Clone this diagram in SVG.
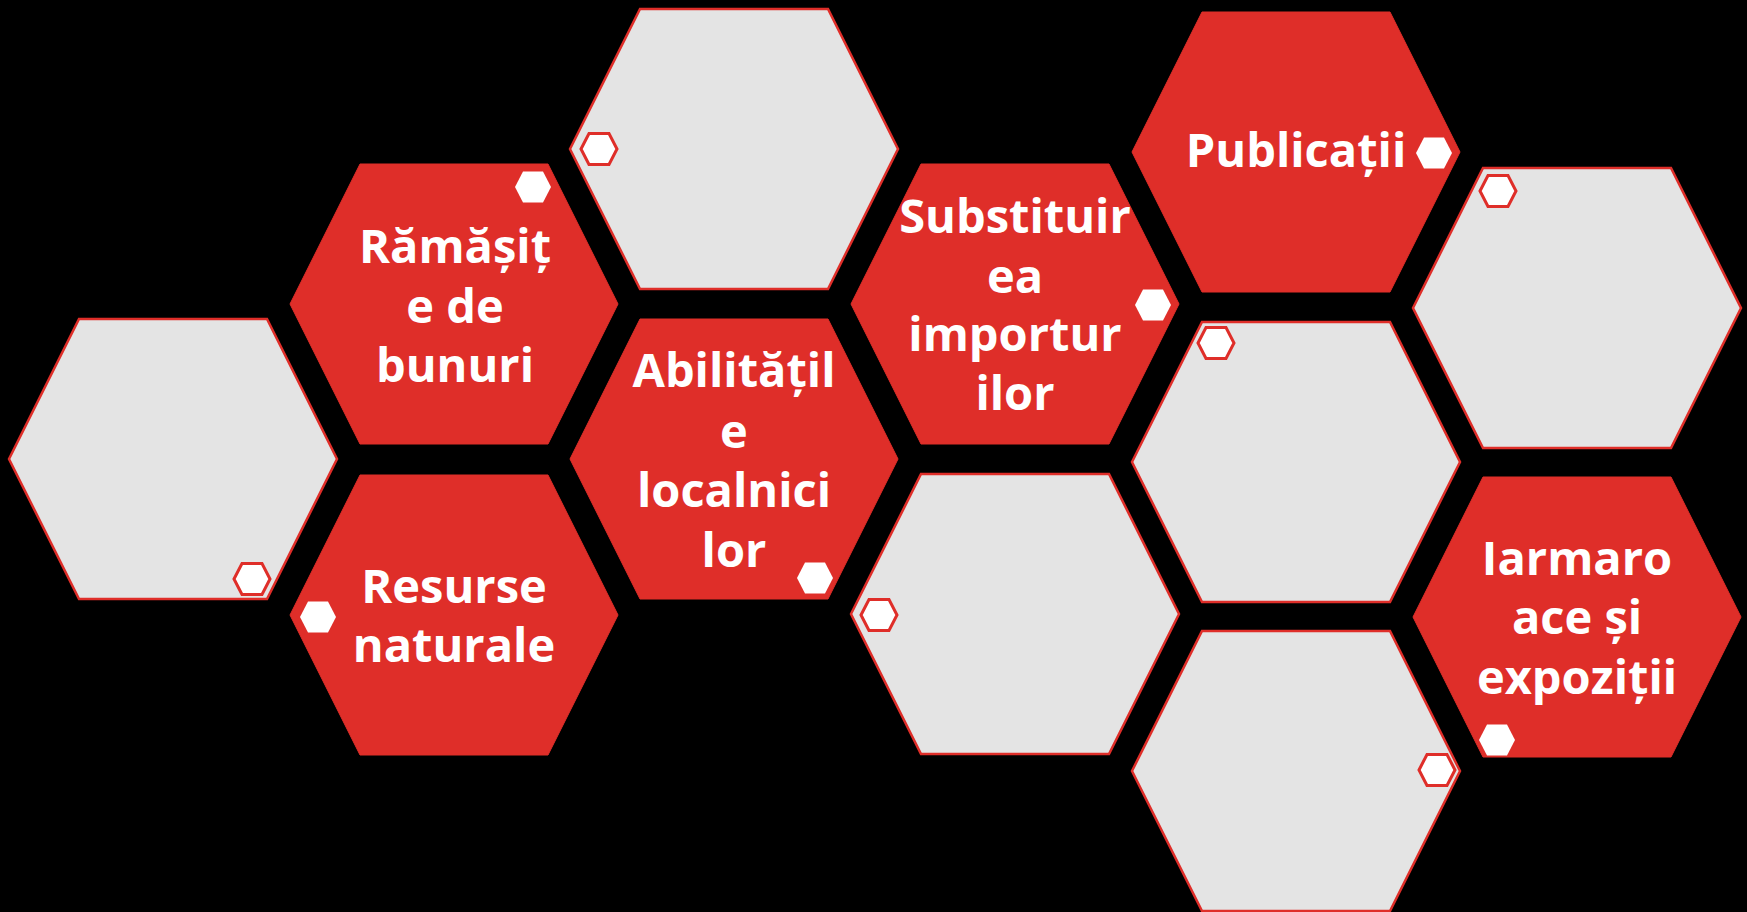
<svg xmlns="http://www.w3.org/2000/svg" xmlns:xlink="http://www.w3.org/1999/xlink" width="1747" height="912" viewBox="0 0 1747 912">
<style>
.red{fill:#DF2E29;stroke:#DF2E29;stroke-width:1}
.grey{fill:#E4E4E4;stroke:#DF2E29;stroke-width:2.5}
.dotw{fill:#FFFFFF}
.dotg{fill:#FFFFFF;stroke:#DF2E29;stroke-width:3}
.lbl{fill:#FFFFFF;font-family:"Open Sans","Lato","DejaVu Sans",sans-serif;font-weight:700;font-size:47px;text-anchor:middle}
</style>
<defs>
<polygon id="hex" points="-164,0 -94,-140 94,-140 164,0 94,140 -94,140"/>
<polygon id="dot" points="-18,0 -10,-15.5 10,-15.5 18,0 10,15.5 -10,15.5"/>
</defs>
<rect x="0" y="0" width="1747" height="912" fill="#000000"/>
<g id="connectors"></g>
<g id="n-grey-c0"><use href="#hex" x="173" y="459" class="grey"/><use href="#dot" x="252" y="579" class="dotg"/></g>
<g id="n-ramasite"><use href="#hex" x="454" y="304" class="red"/><use href="#dot" x="533" y="187" class="dotw"/>
<text class="lbl"><tspan x="455" y="263">Rămășiț</tspan><tspan x="455" y="323">e de</tspan><tspan x="455" y="382">bunuri</tspan></text></g>
<g id="n-resurse"><use href="#hex" x="454" y="615" class="red"/><use href="#dot" x="318" y="617" class="dotw"/>
<text class="lbl"><tspan x="454" y="603">Resurse</tspan><tspan x="454" y="662">naturale</tspan></text></g>
<g id="n-grey-c2"><use href="#hex" x="734" y="149" class="grey"/><use href="#dot" x="599" y="149" class="dotg"/></g>
<g id="n-abilitati"><use href="#hex" x="734" y="459" class="red"/><use href="#dot" x="815" y="578" class="dotw"/>
<text class="lbl"><tspan x="734" y="387">Abilitățil</tspan><tspan x="734" y="448">e</tspan><tspan x="734" y="507">localnici</tspan><tspan x="734" y="567">lor</tspan></text></g>
<g id="n-substituirea"><use href="#hex" x="1015" y="304" class="red"/><use href="#dot" x="1153" y="305" class="dotw"/>
<text class="lbl"><tspan x="1015" y="233">Substituir</tspan><tspan x="1015" y="293">ea</tspan><tspan x="1015" y="351">importur</tspan><tspan x="1015" y="410">ilor</tspan></text></g>
<g id="n-grey-c3"><use href="#hex" x="1015" y="614" class="grey"/><use href="#dot" x="879" y="615" class="dotg"/></g>
<g id="n-publicatii"><use href="#hex" x="1296" y="152" class="red"/><use href="#dot" x="1434" y="153" class="dotw"/>
<text class="lbl"><tspan x="1296" y="167">Publicații</tspan></text></g>
<g id="n-grey-c4a"><use href="#hex" x="1296" y="462" class="grey"/><use href="#dot" x="1216" y="343" class="dotg"/></g>
<g id="n-grey-c4b"><use href="#hex" x="1296" y="771" class="grey"/><use href="#dot" x="1437" y="770" class="dotg"/></g>
<g id="n-grey-c5"><use href="#hex" x="1577" y="308" class="grey"/><use href="#dot" x="1498" y="191" class="dotg"/></g>
<g id="n-iarmaroace"><use href="#hex" x="1577" y="617" class="red"/><use href="#dot" x="1497" y="740" class="dotw"/>
<text class="lbl"><tspan x="1577" y="575">Iarmaro</tspan><tspan x="1577" y="634">ace și</tspan><tspan x="1577" y="694">expoziții</tspan></text></g>
</svg>
